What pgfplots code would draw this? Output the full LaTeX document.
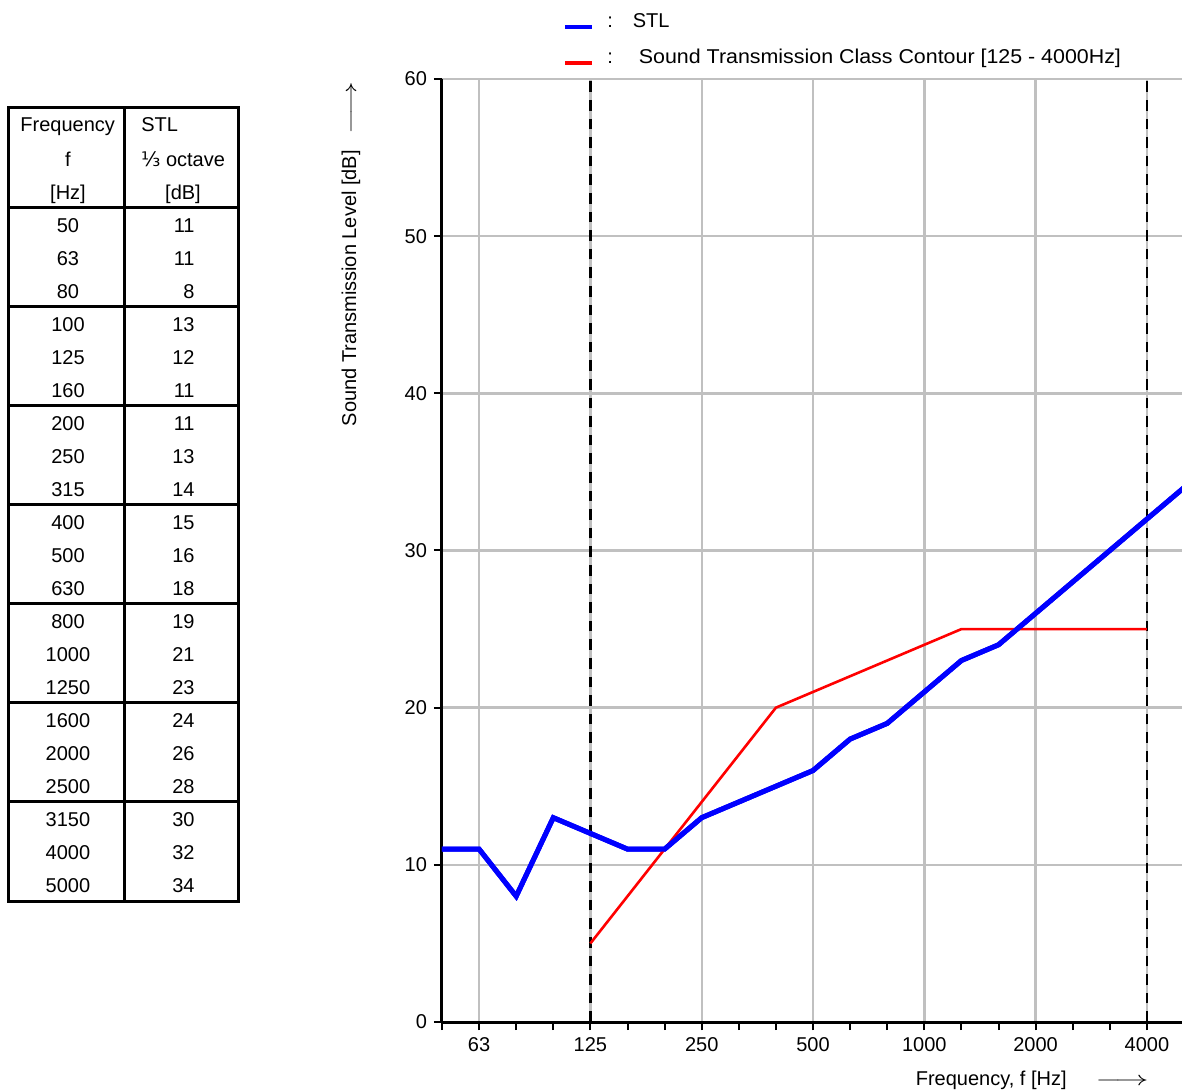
\documentclass[border=0pt]{standalone}
\usepackage{fontspec}
\setmainfont{Liberation Sans}
\newfontfamily\dejavu{DejaVu Sans}
\usepackage{graphicx}
\usepackage{pgfplots}
\pgfplotsset{compat=1.18}
\definecolor{gridgray}{RGB}{192,192,192}
\begin{document}
\begin{tikzpicture}[font=\fontsize{10}{12}\selectfont]
\begin{axis}[
 at={(0pt,0pt)}, anchor=south west,
 scale only axis, width=371pt, height=471.5pt,
 xmin=0, xmax=20, ymin=0, ymax=60,
 axis x line*=bottom, axis y line*=left,
 axis line style={line width=1.5pt, black},
 xtick={1,4,7,10,13,16,19},
 xticklabels={63,125,250,500,1000,2000,4000},
 minor xtick={0,...,20},
 ytick={0,10,...,60},
 tick align=outside,
 major tick length=4pt, minor tick length=4pt,
 every tick/.style={black, line width=1pt},
 xmajorgrids, ymajorgrids,
 major grid style={gridgray, line width=1.2pt},
 /pgf/number format/assume math mode=true,
 ticklabel style={font=\fontsize{10}{12}\selectfont},
 xlabel={Frequency, f [Hz]\hspace{14.5pt}\scalebox{1.65}[1]{$\longrightarrow$}},
 xlabel style={at={(axis description cs:0.962,0)}, anchor=east, yshift=-29pt, font=\fontsize{10}{12}\selectfont},
 ylabel={Sound Transmission Level [dB]\hspace{8pt}\scalebox{1.65}[1]{$\longrightarrow$}},
 ylabel style={at={(axis description cs:-0.1226,1.0053)}, anchor=east, font=\fontsize{10}{12}\selectfont},
 legend style={at={(axis description cs:0.1549,1.0779)}, anchor=north west, draw=none, fill=none,
   font=\fontsize{10}{12}\selectfont, row sep=5pt},
 legend cell align=left,
 legend image code/.code={\draw[#1, line width=2pt] (0pt,-2.5pt) -- (13.5pt,-2.5pt);},
 clip=false,
]
\addplot[black, line width=1.4pt, dash pattern=on 5.3pt off 4pt, forget plot] coordinates {(4,0) (4,60)};
\addplot[black, line width=1.4pt, dash pattern=on 5.3pt off 4pt, forget plot] coordinates {(19,0) (19,60)};
\addplot[blue, line width=2.5pt, no markers] coordinates {
 (0,11) (1,11) (2,8) (3,13) (4,12) (5,11) (6,11) (7,13) (8,14) (9,15) (10,16)
 (11,18) (12,19) (13,21) (14,23) (15,24) (16,26) (17,28) (18,30) (19,32) (20,34)};
\addlegendentry{\hspace{4.5pt}:\hspace{10pt}STL}
\addplot[red, line width=1.3pt, no markers] coordinates {
 (4,5) (5,8) (6,11) (7,14) (8,17) (9,20) (10,21) (11,22) (12,23) (13,24)
 (14,25) (15,25) (16,25) (17,25) (18,25) (19,25)};
\addlegendentry{\hspace{4.5pt}:\hspace{13pt}\scalebox{1.07}[1]{Sound Transmission Class Contour [125 - 4000Hz]}}
% redraw blue on top of red
\addplot[blue, line width=2.5pt, no markers, forget plot] coordinates {
 (0,11) (1,11) (2,8) (3,13) (4,12) (5,11) (6,11) (7,13) (8,14) (9,15) (10,16)
 (11,18) (12,19) (13,21) (14,23) (15,24) (16,26) (17,28) (18,30) (19,32) (20,34)};
\end{axis}
% table
\draw[line width=1.5pt] (-216.5pt,60pt) rectangle (-101.5pt,457pt);
\draw[line width=1.5pt] (-158.5pt,60pt) -- (-158.5pt,457pt);
\foreach \y in {407,357.5,308,258.5,209,159.5,110}
  \draw[line width=1.5pt] (-216.5pt,\y pt) -- (-101.5pt,\y pt);
\node[anchor=base west, inner sep=0pt] at (-211pt,445pt) {Frequency};
\node[anchor=base west, inner sep=0pt] at (-150.5pt,445pt) {STL};
\node[anchor=base, inner sep=0pt] at (-187pt,427.5pt) {f};
\node[anchor=base, inner sep=0pt] at (-129.5pt,427.5pt) {{\dejavu ⅓} octave};
\node[anchor=base, inner sep=0pt] at (-187pt,411pt) {[Hz]};
\node[anchor=base, inner sep=0pt] at (-129.5pt,411pt) {[dB]};
\foreach \f/\s [count=\i from 0] in {50/11,63/11,80/8,100/13,125/12,160/11,200/11,250/13,315/14,400/15,500/16,630/18,800/19,1000/21,1250/23,1600/24,2000/26,2500/28,3150/30,4000/32,5000/34} {
  \pgfmathsetmacro{\yy}{394.5-16.5*\i}
  \node[anchor=base, inner sep=0pt] at (-187pt,\yy pt) {\f};
  \node[anchor=base east, inner sep=0pt] at (-123.5pt,\yy pt) {\s};
}
\pgfresetboundingbox
\useasboundingbox (-221pt,-34.5pt) rectangle (370pt,511pt);
\end{tikzpicture}
\end{document}
